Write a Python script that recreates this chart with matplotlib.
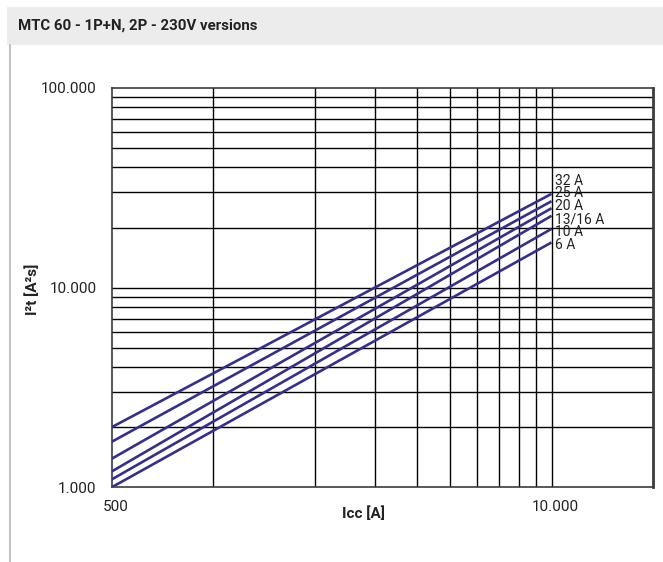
import matplotlib.pyplot as plt
from matplotlib.patches import Rectangle
from matplotlib.lines import Line2D
from matplotlib.transforms import ScaledTranslation
from matplotlib.ticker import FixedLocator, NullFormatter, NullLocator

# Let-through energy curves, one straight segment per rating on log-log axes
ratings = ["32 A", "25 A", "20 A", "13/16 A", "10 A", "6 A"]
icc_points = [500, 10000]
i2t_start = [2000, 1690, 1390, 1200, 1095, 1000]
i2t_end = [29500, 27100, 25000, 22900, 19700, 16850]

x_grid = [1000, 2000, 3000, 4000, 5000, 6000, 7000, 8000, 9000, 10000]
x_labels = {500: "500", 10000: "10.000"}
y_labels = {1000: "1.000", 10000: "10.000", 100000: "100.000"}

LINE_COLOR = "#352f8c"
TEXT_COLOR = "#222222"
FONT = ["Roboto", "DejaVu Sans"]

plt.rcParams["font.family"] = FONT

fig = plt.figure(figsize=(6.63, 5.62), dpi=100)
W, H = 663, 562

# header band and the thin rule on the left
fig.patches.append(Rectangle((7 / W, 1 - 44.5 / H), 1 - 7 / W, 37.5 / H,
                             transform=fig.transFigure, facecolor="#ececec",
                             edgecolor="none", zorder=0))
fig.lines.append(Line2D([9.5 / W, 9.5 / W], [0, 1 - 44.5 / H],
                        transform=fig.transFigure, color="#b8b8b8", lw=1.2))
fig.text(18 / W, 1 - 26 / H, "MTC 60 - 1P+N, 2P - 230V versions",
         fontsize=10.8, fontweight="bold", color=TEXT_COLOR,
         ha="left", va="center")

ax = fig.add_axes([111.7 / W, 1 - 487.3 / H, (653.3 - 111.7) / W, (487.3 - 88) / H])
ax.set_xscale("log")
ax.set_yscale("log")
ax.set_xlim(500, 20000)
ax.set_ylim(1000, 100000)

for y0, y1 in zip(i2t_start, i2t_end):
    ax.plot(icc_points, [y0, y1], color=LINE_COLOR, lw=1.9,
            solid_capstyle="butt", zorder=3)

# rating labels stacked upward from the lowest curve end
step = 12.8 * 72 / 100
for k, name in enumerate(reversed(ratings)):
    ax.annotate(name, xy=(icc_points[-1], i2t_end[-1]),
                xytext=(2.5, -1.6 + k * step), textcoords="offset points",
                fontsize=10, color=TEXT_COLOR, ha="left", va="center",
                zorder=4)

# grid: vertical lines at 1000..10000, horizontal at every decade step
for xv in x_grid:
    ax.axvline(xv, color="black", lw=1.0, zorder=1)
for dec in (1000, 10000):
    for m in range(1, 10):
        yv = dec * m
        if 1000 < yv < 100000:
            ax.axhline(yv, color="black", lw=1.0, zorder=1)

ax.xaxis.set_major_locator(FixedLocator(list(x_labels)))
ax.xaxis.set_minor_locator(NullLocator())
ax.xaxis.set_minor_formatter(NullFormatter())
ax.set_xticklabels(list(x_labels.values()))
ax.yaxis.set_major_locator(FixedLocator(list(y_labels)))
ax.yaxis.set_minor_locator(NullLocator())
ax.yaxis.set_minor_formatter(NullFormatter())
ax.set_yticklabels(list(y_labels.values()))
ax.tick_params(length=0, labelsize=11, colors=TEXT_COLOR)
ax.tick_params(axis="x", pad=9)
ax.tick_params(axis="y", pad=11)

# x tick labels sit a few pixels right of their gridlines
shift = ScaledTranslation(4 / 100, 0, fig.dpi_scale_trans)
for lbl in ax.get_xticklabels():
    lbl.set_transform(lbl.get_transform() + shift)

for side, sp in ax.spines.items():
    sp.set_color("#3c3c3c")
    sp.set_linewidth(1.2)
ax.spines["right"].set_linewidth(2)

fig.text(363 / W, 1 - 514 / H, "Icc [A]", fontsize=11, fontweight="bold",
         color=TEXT_COLOR, ha="center", va="center")
fig.text(33 / W, 1 - 289 / H, "I²t [A²s]", fontsize=11, fontweight="bold",
         color=TEXT_COLOR, ha="center", va="center", rotation=90)

fig.savefig("out.png", dpi=100)
